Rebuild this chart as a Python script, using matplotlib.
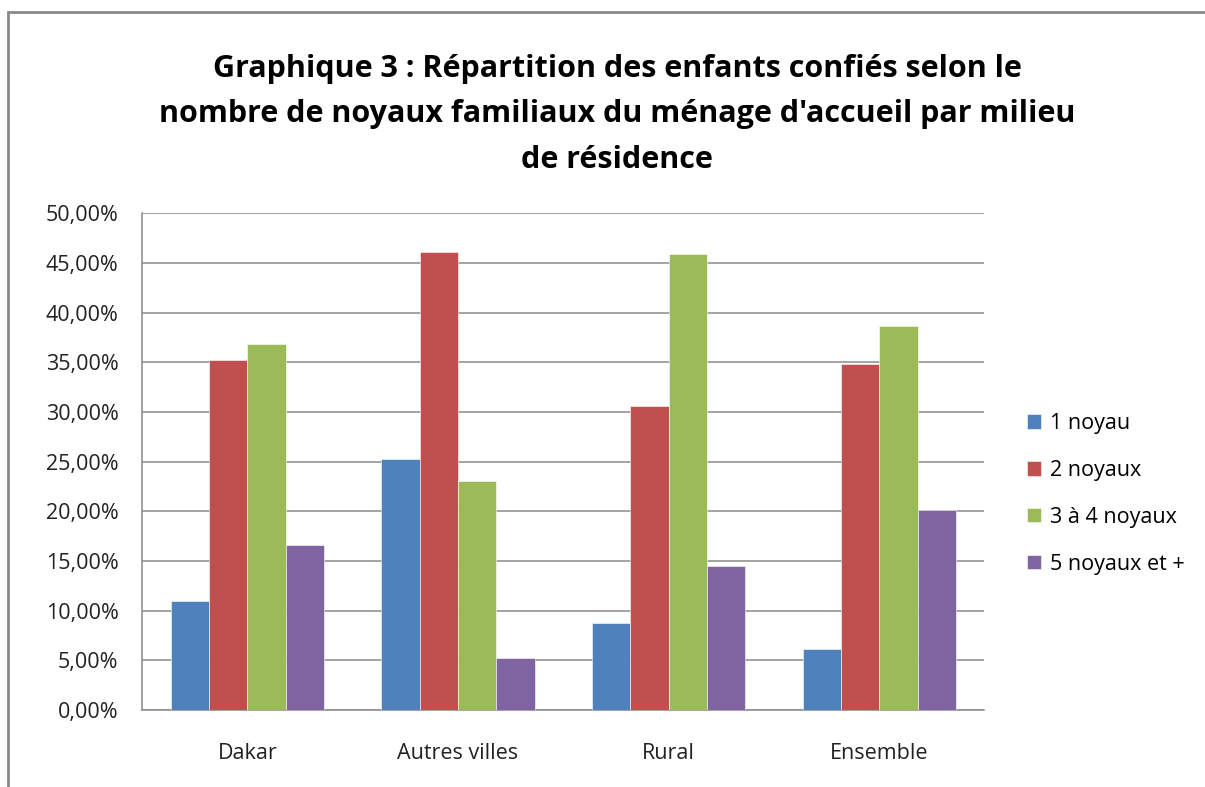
import matplotlib
matplotlib.use('Agg')
import matplotlib.pyplot as plt
import numpy as np
from matplotlib.patches import Rectangle
from matplotlib.ticker import FuncFormatter

plt.rcParams['font.family'] = ['Open Sans', 'DejaVu Sans']

categories = ['Dakar', 'Autres villes', 'Rural', 'Ensemble']
series = ['1 noyau', '2 noyaux', '3 à 4 noyaux', '5 noyaux et +']
un_noyau = [11.0, 25.3, 8.7, 6.1]
deux_noyaux = [35.2, 46.1, 30.6, 34.8]
trois_quatre = [36.8, 23.0, 45.9, 38.7]
cinq_plus = [16.6, 5.2, 14.5, 20.1]
colors = ['#4F81BD', '#C0504D', '#9BBB59', '#8064A2']

title = ("Graphique 3 : Répartition des enfants confiés selon le\n"
         "nombre de noyaux familiaux du ménage d'accueil par milieu\n"
         "de résidence")

fig = plt.figure(figsize=(12.05, 7.87), dpi=100)
ax = fig.add_axes([0.118, 0.098, 0.699, 0.631])

x = np.arange(len(categories))
w = 0.182
for i, (vals, name) in enumerate(zip([un_noyau, deux_noyaux, trois_quatre, cinq_plus], series)):
    ax.bar(x + (i - 1.5) * w, vals, w, color=colors[i], label=name,
           edgecolor='white', linewidth=0.4, zorder=3)

ax.set_xlim(-0.5, 3.5)
ax.set_ylim(0, 50)
ax.set_yticks(np.arange(0, 51, 5))
ax.yaxis.set_major_formatter(FuncFormatter(lambda v, p: f'{v:.2f}%'.replace('.', ',')))
ax.set_xticks(x)
ax.set_xticklabels(categories)
ax.tick_params(axis='both', length=0, labelsize=15.5, colors='#222222')
ax.tick_params(axis='y', pad=17)
ax.tick_params(axis='x', pad=24)
ax.grid(axis='y', color='#8a8a8a', linewidth=1.1, zorder=0)
for s in ['top', 'right']:
    ax.spines[s].set_visible(False)
for s in ['left', 'bottom']:
    ax.spines[s].set_color('#8a8a8a')
    ax.spines[s].set_linewidth(1.1)

ax.legend(loc='upper left', bbox_to_anchor=(1.04, 0.615), frameon=False,
          fontsize=15.5, handlelength=0.65, handleheight=0.65, handletextpad=0.45,
          labelspacing=1.2, borderaxespad=0)

fig.text(0.512, 0.932, title, ha='center', va='top', fontsize=22,
         fontweight='bold', linespacing=1.68)

fig.patches.append(Rectangle((8 / 1205, -0.1), 1.2, 1.1 - 12 / 787,
                             transform=fig.transFigure, fill=False,
                             edgecolor='#8a8a8a', linewidth=2))

fig.savefig('out.png', dpi=100)
